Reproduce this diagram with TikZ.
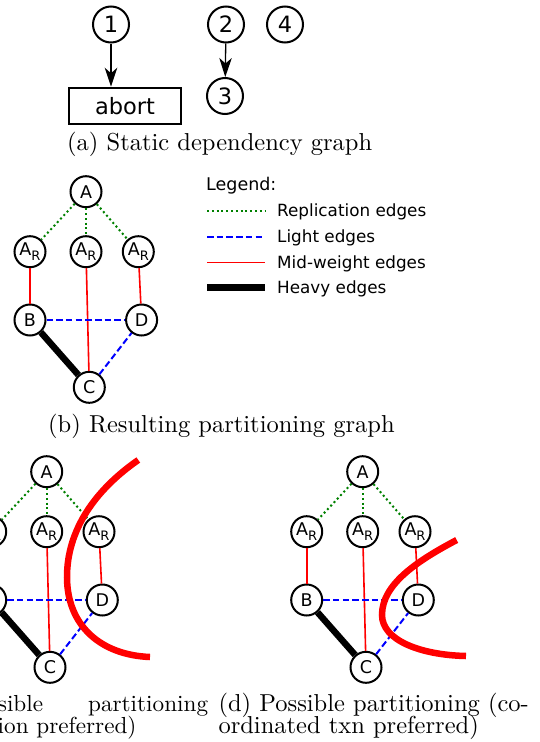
\documentclass[tikz,border=0pt]{standalone}
\usepackage{fontspec}
\newfontfamily\nodefont{DejaVu Sans}
\newfontfamily\capfont{lmroman10-regular}[Extension=.otf]
\usetikzlibrary{arrows.meta}
\newcommand\ARlabel{A\raisebox{-5pt}{\fontsize{13}{13}\selectfont R}}
\newcommand\partgraph[3]{%
  \begin{scope}[shift={(#2,#3)}]
    \node[gnode] (#1A) at (0,0) {A};
    \node[gnode] (#1R1) at (-56,60) {\ARlabel};
    \node[gnode] (#1R2) at (0,60) {\ARlabel};
    \node[gnode] (#1R3) at (52.3,60) {\ARlabel};
    \node[gnode] (#1B) at (-56,128.3) {B};
    \node[gnode] (#1D) at (55.6,128.3) {D};
    \node[gnode] (#1C) at (3.3,195.6) {C};
    \draw[repl] (#1A) -- (#1R1);
    \draw[repl] (#1A) -- (#1R2);
    \draw[repl] (#1A) -- (#1R3);
    \draw[mid] (#1R1) -- (#1B);
    \draw[mid] (#1R2) -- (#1C);
    \draw[mid] (#1R3) -- (#1D);
    \draw[light] (#1B) -- (#1D);
    \draw[light] (#1C) -- (#1D);
    \draw[heavy] (#1B) -- (#1C);
  \end{scope}}
\begin{document}
\begin{tikzpicture}[x=1pt,y=-1pt,
  cnode/.style={circle, draw, line width=2pt, minimum size=36pt, inner sep=0pt, font=\nodefont\fontsize{22.5}{24}\selectfont},
  abortbox/.style={draw, line width=2.5pt, minimum width=112pt, minimum height=36pt, inner sep=0pt, font=\nodefont\fontsize{22.5}{24}\selectfont},
  gnode/.style={circle, draw, line width=2pt, minimum size=31pt, inner sep=0pt, fill=white, font=\nodefont\fontsize{17.5}{18}\selectfont},
  arr/.style={-{Stealth[length=19pt,width=12.5pt,inset=5.5pt]}, line width=1.3pt},
  repl/.style={draw=green!50!black, line width=2pt, dash pattern=on 2pt off 2.8pt},
  light/.style={draw=blue, line width=2pt, dash pattern=on 6.5pt off 3.2pt},
  mid/.style={draw=red, line width=1.6pt},
  heavy/.style={draw=black, line width=6.5pt},
  cutcurve/.style={draw=red, line width=6.5pt},
  captext/.style={inner sep=0pt, font=\capfont\fontsize{24.5}{29}\selectfont},
  captextc/.style={inner sep=0pt, font=\capfont\fontsize{23.2}{28}\selectfont},
  legtext/.style={inner sep=0pt, font=\nodefont\fontsize{16.8}{18}\selectfont}
]
\useasboundingbox (0,0) rectangle (540,742);
% (a)
\node[cnode] (n1) at (111,24.5) {1};
\node[cnode] (n2) at (226,24.5) {2};
\node[cnode] (n4) at (285,24.5) {4};
\node[cnode] (n3) at (225,96) {3};
\node[abortbox] (abort) at (125,106) {abort};
\draw[arr] (n1) -- (n1 |- abort.north);
\draw[arr] (n2) -- (n3);
\node[captext, anchor=base west] (capa) at (67,150.5) {(a) Static dependency graph};
% (b)
\partgraph{b}{86}{191.7}
\node[legtext, anchor=base west, font=\nodefont\fontsize{17.5}{18}\selectfont] (leg) at (206,190.5) {Legend:};
\coordinate (l1s) at (207,210.7); \coordinate (l1e) at (265,210.7);
\coordinate (l2s) at (207,236.7); \coordinate (l2e) at (265,236.7);
\coordinate (l3s) at (207,262.3); \coordinate (l3e) at (265,262.3);
\coordinate (l4s) at (207,287.7); \coordinate (l4e) at (265,287.7);
\draw[repl] (l1s) -- (l1e);
\draw[light] (l2s) -- (l2e);
\draw[mid] (l3s) -- (l3e);
\draw[heavy] (l4s) -- (l4e);
\node[legtext, anchor=base west] (lt1) at (277,216.5) {Replication edges};
\node[legtext, anchor=base west] (lt2) at (277,242.5) {Light edges};
\node[legtext, anchor=base west] (lt3) at (277,268) {Mid-weight edges};
\node[legtext, anchor=base west] (lt4) at (277,293.5) {Heavy edges};
\node[captext, anchor=base west] (capb) at (48,432) {(b) Resulting partitioning graph};
% (c)
\partgraph{c}{46.7}{471.7}
\draw[cutcurve] (138.3,460) .. controls (95,490) and (67,530) .. (67,577) .. controls (67,625) and (100,655) .. (150,657);
\node[captextc, anchor=base east] (capc1) at (43.3,711.7) {(c) Possible};
\node[captextc, anchor=base east] (capc2) at (208.3,711.7) {partitioning};
\node[captextc, anchor=base east] (capc3) at (136.7,733.3) {(replication preferred)};
% (d)
\partgraph{d}{362.7}{471.7}
\draw[cutcurve] (456.7,540) .. controls (415,562) and (382,585) .. (382,615) .. controls (382,640) and (420,655) .. (466,656);
\node[captext, anchor=base west] (capd1) at (218.3,711.7) {(d) Possible partitioning (co-};
\node[captext, anchor=base west] (capd2) at (218.3,733.3) {ordinated txn preferred)};
\end{tikzpicture}
\end{document}
